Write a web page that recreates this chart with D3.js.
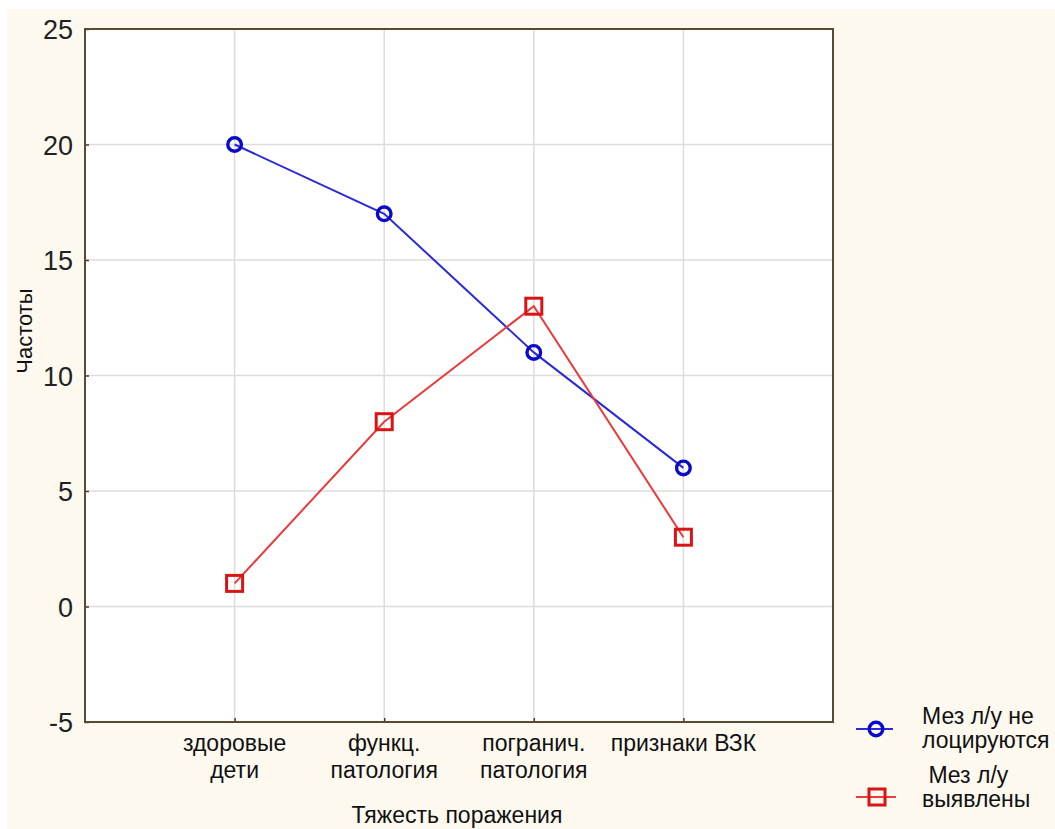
<!DOCTYPE html>
<html><head><meta charset="utf-8">
<script src="https://cdn.jsdelivr.net/npm/d3@7"></script>
<style>html,body{margin:0;padding:0;background:#fff;overflow:hidden}</style>
</head><body>
<svg id="c" width="1055" height="829"></svg>
<script>
const categories = [["здоровые","дети"],["функц.","патология"],["погранич.","патология"],["признаки ВЗК"]];
const seriesNames = [["Мез л/у не","лоцируются"],[" Мез л/у","выявлены"]];
const notLocated = [20, 17, 11, 6];
const detected = [1, 8, 13, 3];
const yTicks = [-5, 0, 5, 10, 15, 20, 25];
const xTitle = "Тяжесть поражения";
const yTitle = "Частоты";

const FONT = "Liberation Sans, Arial, sans-serif";
const svg = d3.select("#c");
const L = 85, R = 833, T = 29, B = 722;
svg.append("rect").attr("x",7).attr("y",9).attr("width",1048).attr("height",820).attr("fill","#fdf9ef");
svg.append("rect").attr("x",L).attr("y",T).attr("width",R-L).attr("height",B-T).attr("fill","#fff");

const x = d3.scaleLinear().domain([0,5]).range([L,R]);
const y = d3.scaleLinear().domain([-5,25]).range([B,T]);
const idx = categories.map((d,i)=>i+1);

// grid
svg.append("g").selectAll("line").data(yTicks.slice(1,-1)).join("line")
  .attr("x1",L).attr("x2",R).attr("y1",d=>y(d)).attr("y2",d=>y(d))
  .attr("stroke","#dcdcdc").attr("stroke-width",1.5);
svg.append("g").selectAll("line").data(idx).join("line")
  .attr("x1",d=>x(d)).attr("x2",d=>x(d)).attr("y1",T).attr("y2",B)
  .attr("stroke","#dcdcdc").attr("stroke-width",1.5);

// axes
const yAx = svg.append("g").attr("transform",`translate(${L},0)`)
  .call(d3.axisLeft(y).tickValues(yTicks).tickSize(-4).tickPadding(12).tickFormat(d=>String(d)));
yAx.select(".domain").remove();
yAx.selectAll("line").attr("stroke","#4a3a28").attr("stroke-width",1.5);
yAx.selectAll("text").attr("font-family",FONT).attr("font-size",27).attr("fill","#222").attr("dy","0.36em");

const xAx = svg.append("g").attr("transform",`translate(0,${B})`)
  .call(d3.axisBottom(x).tickValues(idx).tickSize(-4).tickFormat(""));
xAx.select(".domain").remove();
xAx.selectAll("line").attr("stroke","#4a3a28").attr("stroke-width",1.5);

// category labels
const cat = svg.append("g").selectAll("text").data(categories).join("text")
  .attr("x",(d,i)=>x(i+1)).attr("y",751).attr("text-anchor","middle")
  .attr("font-family",FONT).attr("font-size",23).attr("fill","#111");
cat.selectAll("tspan").data(d=>d).join("tspan")
  .attr("x",function(){return this.parentNode.getAttribute("x");})
  .attr("dy",(d,i)=>i===0?0:27).text(d=>d);

// frame
svg.append("rect").attr("x",L).attr("y",T).attr("width",R-L).attr("height",B-T)
  .attr("fill","none").attr("stroke","#5b4a33").attr("stroke-width",2);

// titles
svg.append("text").attr("x",457).attr("y",823).attr("text-anchor","middle")
  .attr("font-family",FONT).attr("font-size",23).attr("fill","#111").text(xTitle);
svg.append("text").attr("transform","translate(32,331) rotate(-90)").attr("text-anchor","middle")
  .attr("font-family",FONT).attr("font-size",22).attr("fill","#111").text(yTitle);

// lines
const line = d3.line().x((d,i)=>x(i+1)).y(d=>y(d));
svg.append("path").datum(notLocated).attr("d",line).attr("fill","none").attr("stroke","#2a2ad6").attr("stroke-width",2);
svg.append("path").datum(detected).attr("d",line).attr("fill","none").attr("stroke","#ec3a3a").attr("stroke-width",2);

// markers
svg.append("g").selectAll("circle").data(notLocated).join("circle")
  .attr("cx",(d,i)=>x(i+1)).attr("cy",d=>y(d)).attr("r",6.8)
  .attr("fill","none").attr("stroke","#0a0ac8").attr("stroke-width",3.4);
svg.append("g").selectAll("rect").data(detected).join("rect")
  .attr("x",(d,i)=>x(i+1)-8).attr("y",d=>y(d)-8).attr("width",16).attr("height",16)
  .attr("fill","none").attr("stroke","#d81414").attr("stroke-width",3);

// legend
const lg = svg.append("g");
lg.append("line").attr("x1",856).attr("x2",893).attr("y1",729).attr("y2",729).attr("stroke","#2a2ad6").attr("stroke-width",2);
lg.append("circle").attr("cx",876).attr("cy",729).attr("r",6.8).attr("fill","none").attr("stroke","#0a0ac8").attr("stroke-width",3.4);
lg.append("line").attr("x1",856).attr("x2",896).attr("y1",797).attr("y2",797).attr("stroke","#ec3a3a").attr("stroke-width",2);
lg.append("rect").attr("x",869).attr("y",789).attr("width",16).attr("height",16).attr("fill","none").attr("stroke","#d81414").attr("stroke-width",3);
const lt = lg.selectAll("text").data(seriesNames).join("text")
  .attr("x",922).attr("y",(d,i)=>i===0?724:783)
  .attr("font-family",FONT).attr("font-size",23).attr("fill","#111")
  .style("white-space","pre");
lt.selectAll("tspan").data(d=>d).join("tspan").attr("x",922).attr("dy",(d,i)=>i===0?0:24).text(d=>d);
</script>
</body></html>
